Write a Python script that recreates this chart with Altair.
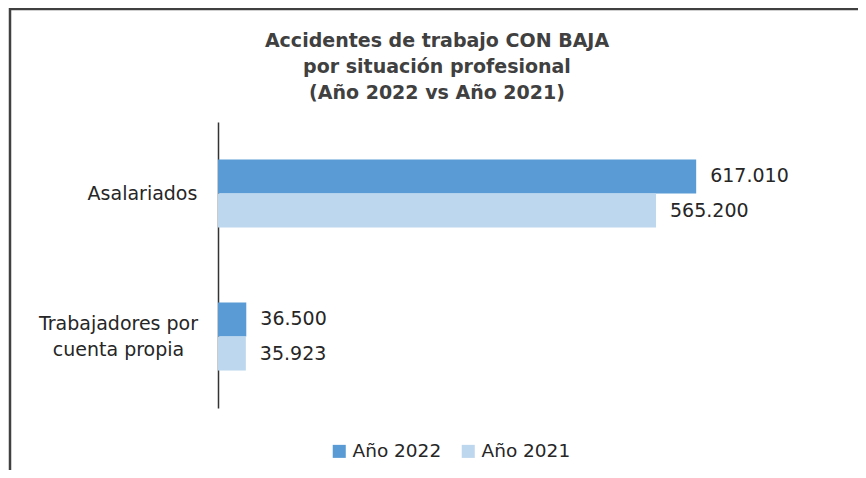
import altair as alt
import pandas as pd

categories = ["Asalariados", "Trabajadores por cuenta propia"]
years = ["Año 2022", "Año 2021"]
values_2022 = [617010, 36500]
values_2021 = [565200, 35923]
colors = ["#5B9BD5", "#BDD7EE"]

rows = []
for i, c in enumerate(categories):
    for y, v in zip(years, [values_2022[i], values_2021[i]]):
        rows.append({"cat": c, "year": y, "value": v,
                     "label": f"{v:,}".replace(",", ".")})
df = pd.DataFrame(rows)

FONT = "DejaVu Sans"
TXT = "#262626"

y_enc = alt.Y("cat:N", sort=categories, title=None,
              scale=alt.Scale(paddingInner=0.524, paddingOuter=0.262),
              axis=alt.Axis(domain=True, domainColor="#333333", domainWidth=1.5,
                            ticks=False, labelFontSize=19, labelAlign="center",
                            labelPadding={"condition": {"test": "datum.value == 'Asalariados'", "value": 76}, "value": 100},
                            labelOffset={"condition": {"test": "datum.value == 'Asalariados'", "value": 0}, "value": -12.5},
                            labelFont=FONT, labelColor=TXT, labelLineHeight=26,
                            labelExpr="datum.value == 'Trabajadores por cuenta propia' ? ['Trabajadores por', 'cuenta propia'] : datum.value"))
x_enc = alt.X("value:Q", scale=alt.Scale(domain=[0, 800000]), axis=None)
yoff = alt.YOffset("year:N", sort=years, scale=alt.Scale(paddingInner=0, paddingOuter=0))

bars = alt.Chart(df).mark_bar().encode(
    y=y_enc, x=x_enc, yOffset=yoff,
    color=alt.Color("year:N", sort=years,
                    scale=alt.Scale(domain=years, range=colors),
                    legend=alt.Legend(title=None, orient="none", legendX=112, legendY=320,
                                      direction="horizontal", symbolType="square",
                                      symbolSize=170, symbolStrokeWidth=0,
                                      labelFont=FONT, labelFontSize=18.5, labelColor=TXT,
                                      labelOffset=4, columnPadding=17)),
)

texts = alt.Chart(df).mark_text(align="left", baseline="middle", dx=14,
                                fontSize=19, font=FONT, color=TXT).encode(
    y=alt.Y("cat:N", sort=categories), x=x_enc, yOffset=yoff, text="label:N")

one = pd.DataFrame({"a": [0]})
border_top = alt.Chart(one).mark_rule(color="#404040", strokeWidth=2.5).encode(
    x=alt.value(-209), x2=alt.value(660), y=alt.value(-113))
border_left = alt.Chart(one).mark_rule(color="#404040", strokeWidth=2.5).encode(
    x=alt.value(-208), y=alt.value(-114), y2=alt.value(400))

chart = alt.layer(bars, texts, border_top, border_left).properties(
    width=620, height=286,
    autosize=alt.AutoSizeParams(type="none"),
    padding={"left": 210, "top": 114, "right": 20, "bottom": 62},
    title=alt.TitleParams(
        text=["Accidentes de trabajo CON BAJA", "por situación profesional",
              "(Año 2022 vs Año 2021)"],
        font=FONT, fontSize=19, fontWeight="bold", color="#404040",
        lineHeight=26, anchor="middle", frame="group", dx=-91, offset=-96),
).configure_view(stroke=None)

chart.save("out.html", embed_options={"renderer": "svg", "actions": False})
